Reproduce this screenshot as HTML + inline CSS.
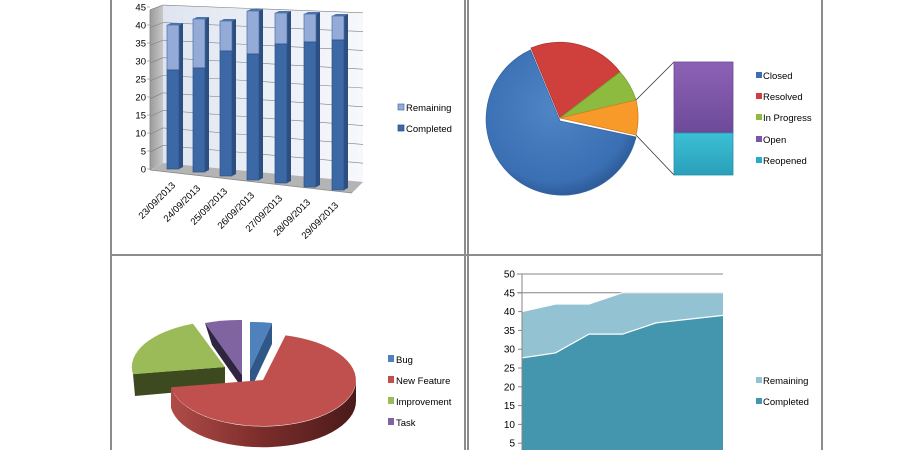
<!DOCTYPE html>
<html><head><meta charset="utf-8"><style>
html,body{margin:0;padding:0;background:#fff;width:920px;height:450px;overflow:hidden}
svg{display:block;font-family:"Liberation Sans",sans-serif}
</style></head><body>
<svg id="s" width="920" height="450" viewBox="0 0 920 450" xmlns="http://www.w3.org/2000/svg">
<defs>
<linearGradient id="wallL" x1="0" x2="1"><stop offset="0" stop-color="#9a9a9a"/><stop offset="1" stop-color="#c8c8c8"/></linearGradient>
<linearGradient id="back" x1="0" x2="1"><stop offset="0" stop-color="#dfe5f0"/><stop offset="1" stop-color="#f6f8fc"/></linearGradient>
<linearGradient id="redSide" x1="0" x2="1"><stop offset="0" stop-color="#b04c48"/><stop offset="0.5" stop-color="#7a2c2a"/><stop offset="1" stop-color="#4a1a1a"/></linearGradient>
<radialGradient id="blueP" cx="0.45" cy="0.4" r="0.6"><stop offset="0" stop-color="#4f86c6"/><stop offset="0.85" stop-color="#3a6fb3"/><stop offset="1" stop-color="#2e5d9a"/></radialGradient>
<linearGradient id="purp" x1="0" y1="0" x2="0" y2="1"><stop offset="0" stop-color="#8d62b6"/><stop offset="1" stop-color="#6d4a99"/></linearGradient>
<linearGradient id="cyan" x1="0" y1="0" x2="0" y2="1"><stop offset="0" stop-color="#3cc0d6"/><stop offset="1" stop-color="#2a9fba"/></linearGradient>
</defs>
<g stroke="#8c8c8c" stroke-width="2" fill="none">
<line x1="111" y1="0" x2="111" y2="450"/>
<line x1="465" y1="0" x2="465" y2="450"/>
<line x1="468" y1="0" x2="468" y2="450"/>
<line x1="822" y1="0" x2="822" y2="450"/>
<line x1="111" y1="255" x2="822" y2="255"/>
</g>
<g id="bar"></g>
<rect x="398" y="104" width="6" height="6" fill="#95abd7" stroke="#4a6fa6" stroke-width="0.7"/>
<text x="406" y="111" font-size="9.5">Remaining</text>
<rect x="398" y="125" width="6" height="6" fill="#3c68a6" stroke="#2a4f80" stroke-width="0.7"/>
<text x="406" y="132" font-size="9.5">Completed</text>

<path d="M560,121 L636,137 A76,76 0 1 1 530.5,50 Z" fill="url(#blueP)" stroke="#3566a4" stroke-width="0.8"/>
<path d="M560,118 L531,48 A76,76 0 0 1 620,72 Z" fill="#cf3f3c" stroke="#b03532" stroke-width="0.8"/>
<path d="M560,118 L620,72 A76,76 0 0 1 636,100 Z" fill="#8dbb3f" stroke="#73a030" stroke-width="0.8"/>
<path d="M560,118 L636,100 A76,76 0 0 1 636,135 Z" fill="#f79a2a" stroke="#d47f1c" stroke-width="0.8"/>
<line x1="636" y1="100" x2="674" y2="62" stroke="#333" stroke-width="0.8"/>
<line x1="636" y1="135" x2="674" y2="175" stroke="#333" stroke-width="0.8"/>
<rect x="674" y="62" width="59" height="71" fill="url(#purp)" stroke="#6a4a92" stroke-width="0.8"/>
<rect x="674" y="133" width="59" height="42" fill="url(#cyan)" stroke="#2690a8" stroke-width="0.8"/>
<g font-size="9.5">
<rect x="756" y="72" width="6" height="6" fill="#3a6fb3"/><text x="763" y="79">Closed</text>
<rect x="756" y="93" width="6" height="6" fill="#cf3f3c"/><text x="763" y="100">Resolved</text>
<rect x="756" y="114" width="6" height="6" fill="#8dbb3f"/><text x="763" y="121">In Progress</text>
<rect x="756" y="136" width="6" height="6" fill="#7b55a8"/><text x="763" y="143">Open</text>
<rect x="756" y="157" width="6" height="6" fill="#2aaac6"/><text x="763" y="164">Reopened</text>
</g>

<polygon points="225,367 133,374 135,396 225,388" fill="#3d4a1f"/>
<path d="M225,367 L133,374.2 A93,46 0 0 1 193,323.8 Z" fill="#9bbb59"/>
<polygon points="242,375 205,323 212,345 242,388" fill="#2f2541"/>
<path d="M242,375 L205,323 A93,46 0 0 1 242,320 Z" fill="#8064a2"/>
<polygon points="250,370 272,323 272,344 250,391" fill="#2f5888"/>
<path d="M250,370 L250,322 A93,46 0 0 1 272,323 Z" fill="#4f81bd"/>
<path d="M356,380 A93,46 0 0 1 171,387.2 L171,408 A93,46 0 0 0 356,401 Z" fill="url(#redSide)"/>
<path d="M263,380 L285.5,335.4 A93,46 0 1 1 171,387.2 Z" fill="#c0504d"/>
<g font-size="9.5">
<rect x="388" y="355" width="6" height="7" fill="#4f81bd"/><text x="396" y="363">Bug</text>
<rect x="388" y="376" width="6" height="7" fill="#c0504d"/><text x="396" y="384">New Feature</text>
<rect x="388" y="397" width="6" height="7" fill="#9bbb59"/><text x="396" y="405">Improvement</text>
<rect x="388" y="418" width="6" height="7" fill="#8064a2"/><text x="396" y="426">Task</text>
</g>

<g id="area"></g>
<g font-size="9.5">
<rect x="756" y="377" width="6" height="6" fill="#93c2d3"/><text x="763" y="384">Remaining</text>
<rect x="756" y="398" width="6" height="6" fill="#4396ae"/><text x="763" y="405">Completed</text>
</g>
</svg>
<script>
var NS="http://www.w3.org/2000/svg";
function el(p,t,a,txt){var e=document.createElementNS(NS,t);for(var k in a)e.setAttribute(k,a[k]);if(txt!=null)e.textContent=txt;p.appendChild(e);return e;}
var g=document.getElementById('bar');
el(g,'polygon',{points:"150,10 163,5 163,163 150,170",fill:"url(#wallL)"});
el(g,'polygon',{points:"163,5 363,13 363,182 163,163",fill:"url(#back)"});
el(g,'polygon',{points:"150,170 163,163 363,182 352,193",fill:"#b4b4b4"});
for(var v=5;v<=45;v+=5){
  var yl=163-v*3.51, yr=182-v*3.76, yw=170-v*3.56;
  el(g,'line',{x1:163,y1:yl,x2:363,y2:yr,stroke:"#7f7f7f","stroke-width":0.6});
  el(g,'line',{x1:150,y1:yw,x2:163,y2:yl,stroke:"#7f7f7f","stroke-width":0.6});
}
el(g,'line',{x1:150,y1:10,x2:150,y2:170,stroke:"#888","stroke-width":0.8});
el(g,'line',{x1:150,y1:170,x2:352,y2:193,stroke:"#888","stroke-width":0.8});
for(var v=0;v<=45;v+=5){
  var y=169-v*3.6;
  el(g,'text',{x:146,y:y+3.5,"font-size":9.5,"text-anchor":"end"},String(v));
  el(g,'line',{x1:147,y1:y,x2:150,y2:y,stroke:"#888","stroke-width":0.6});
}
var bx=[167,193,220,247,275,304,332], bb=[169,172,176,180,183,187,190],
    ct=[70,68,51,54,44,42,40], rt=[25,19,21,11,13,14,16];
for(var i=0;i<7;i++){
  var x=bx[i],w=12,d=4;
  el(g,'polygon',{points:(x+w)+","+rt[i]+" "+(x+w+d)+","+(rt[i]-2)+" "+(x+w+d)+","+(bb[i]-2)+" "+(x+w)+","+bb[i],fill:"#2c4f80"});
  el(g,'rect',{x:x,y:ct[i],width:w,height:bb[i]-ct[i],fill:"#3c68a6",stroke:"#2d5289","stroke-width":0.7});
  el(g,'rect',{x:x,y:rt[i],width:w,height:ct[i]-rt[i],fill:"#95abd7",stroke:"#4a6fa6","stroke-width":0.7});
  el(g,'polygon',{points:x+","+rt[i]+" "+(x+d)+","+(rt[i]-2)+" "+(x+w+d)+","+(rt[i]-2)+" "+(x+w)+","+rt[i],fill:"#4a72ad"});
  el(g,'line',{x1:x,y1:ct[i],x2:x+w,y2:ct[i],stroke:"#2d5289","stroke-width":0.8});
}
var lx=[173,198,225,252,280,308,336], ly=[183,186,189,193,196,200,203],
    labs=["23/09/2013","24/09/2013","25/09/2013","26/09/2013","27/09/2013","28/09/2013","29/09/2013"];
for(var i=0;i<7;i++){
  el(g,'text',{x:lx[i],y:ly[i]+4,"font-size":9.5,"text-anchor":"end",transform:"rotate(-45 "+lx[i]+" "+ly[i]+")"},labs[i]);
}
var a=document.getElementById('area');
function Y(v){return 274+(50-v)*3.76;}
var xs=[],rem=[40,42,42,45,45,45,45],com=[27.7,29,34,34,37,38,39];
for(var i=0;i<7;i++)xs.push(522+i*33.5);
el(a,'line',{x1:517,y1:274,x2:723,y2:274,stroke:"#868686","stroke-width":1});
el(a,'line',{x1:517,y1:Y(45),x2:723,y2:Y(45),stroke:"#868686","stroke-width":1});
var p="M522,460";for(var i=0;i<7;i++)p+=" L"+xs[i]+","+Y(rem[i]);p+=" L723,460 Z";
el(a,'path',{d:p,fill:"#93c2d3"});
p="M522,460";for(var i=0;i<7;i++)p+=" L"+xs[i]+","+Y(com[i]);p+=" L723,460 Z";
el(a,'path',{d:p,fill:"#4396ae"});
var q="";for(var i=0;i<7;i++)q+=(i?" L":"M")+xs[i]+","+Y(com[i]);
el(a,'path',{d:q,fill:"none",stroke:"#fff","stroke-width":1.2});
q="";for(var i=0;i<7;i++)q+=(i?" L":"M")+xs[i]+","+Y(rem[i]);
el(a,'path',{d:q,fill:"none",stroke:"#fff","stroke-width":1});
el(a,'line',{x1:522,y1:274,x2:522,y2:450,stroke:"#868686","stroke-width":1});
for(var v=5;v<=50;v+=5){
  el(a,'text',{x:515,y:Y(v)+3.5,"font-size":10,"text-anchor":"end"},String(v));
  el(a,'line',{x1:518,y1:Y(v),x2:522,y2:Y(v),stroke:"#868686","stroke-width":1});
}
</script>
</body></html>
